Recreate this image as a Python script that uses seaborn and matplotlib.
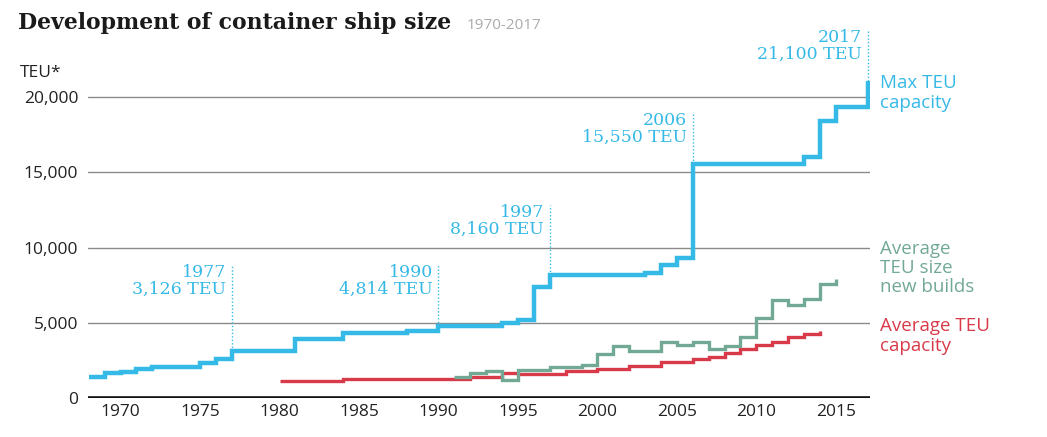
import pandas as pd
import seaborn as sns
import matplotlib.pyplot as plt

# Max TEU capacity (year the step starts, TEU)
max_years = [1968, 1969, 1970, 1971, 1972, 1975, 1976, 1977, 1981, 1984, 1988, 1990,
             1994, 1995, 1996, 1997, 2003, 2004, 2005, 2006, 2013, 2014, 2015, 2017]
max_teu = [1380, 1640, 1750, 1900, 2080, 2350, 2570, 3126, 3900, 4300, 4450, 4814,
           5000, 5200, 7400, 8160, 8330, 8840, 9280, 15550, 15990, 18430, 19360, 21100]

# Average TEU size of new builds
new_years = [1991, 1992, 1993, 1994, 1995, 1997, 1999, 2000, 2001, 2002, 2004,
             2005, 2006, 2007, 2008, 2009, 2010, 2011, 2012, 2013, 2014, 2015]
new_teu = [1420, 1640, 1810, 1200, 1860, 2040, 2190, 2920, 3450, 3140, 3700,
           3520, 3740, 3280, 3460, 4070, 5300, 6510, 6180, 6560, 7550, 7890]

# Average TEU capacity
avg_years = [1980, 1984, 1992, 1994, 1995, 1998, 2000, 2002, 2004, 2006, 2007,
             2008, 2009, 2010, 2011, 2012, 2013, 2014]
avg_teu = [1130, 1250, 1420, 1650, 1600, 1800, 1950, 2130, 2400, 2600, 2750,
           2970, 3230, 3520, 3740, 4070, 4250, 4470]

# Milestones called out on the max line
ann_years = [1977, 1990, 1997, 2006, 2017]
ann_tops = [8840, 8840, 12820, 18940, 24450]  # where the dotted leader ends

x_ticks = [1970, 1975, 1980, 1985, 1990, 1995, 2000, 2005, 2010, 2015]
y_ticks = [0, 5000, 10000, 15000, 20000]

blue = '#35b9e6'
green = '#72a995'
red = '#d83a4a'

sns.set_theme(style='white')
plt.rcParams['font.family'] = ['Open Sans', 'DejaVu Sans']

fig = plt.figure(figsize=(10.47, 4.37), dpi=100)
ax = fig.add_axes([88 / 1047, 1 - 398 / 437, (870 - 88) / 1047, (398 - 79) / 437])

df_max = pd.DataFrame({'year': max_years, 'teu': max_teu})
df_new = pd.DataFrame({'year': new_years, 'teu': new_teu})
df_avg = pd.DataFrame({'year': avg_years, 'teu': avg_teu})

# gridlines first so the series sit on top
for v in y_ticks[1:]:
    ax.axhline(v, color='#8a8a8a', lw=1, zorder=1)
ax.axhline(0, color='#111111', lw=2.6, zorder=1)

step_kw = dict(drawstyle='steps-post', solid_joinstyle='miter', solid_capstyle='butt',
               errorbar=None, legend=False)
sns.lineplot(data=df_avg, x='year', y='teu', color=red, lw=2.4, ax=ax, zorder=3, **step_kw)
sns.lineplot(data=df_new, x='year', y='teu', color=green, lw=2.4, ax=ax, zorder=4, **step_kw)
sns.lineplot(data=df_max, x='year', y='teu', color=blue, lw=3.2, ax=ax, zorder=5, **step_kw)

# milestone call-outs
serif = 'DejaVu Serif'
for yr, top in zip(ann_years, ann_tops):
    val = max_teu[max_years.index(yr)]
    ax.plot([yr, yr], [val, top], color=blue, lw=1, linestyle=(0, (1, 1.5)),
            clip_on=False, zorder=2)
    ax.annotate(f'{yr}\n{val:,} TEU', xy=(yr, top), xytext=(-4, 1),
                textcoords='offset points', ha='right', va='top', color=blue,
                fontsize=12.5, family=serif, linespacing=1.02, annotation_clip=False)

# series labels on the right
lab_kw = dict(transform=ax.get_yaxis_transform(), ha='left', va='center',
              fontsize=13.5, linespacing=1.08, clip_on=False)
ax.text(1.013, 20270, 'Max TEU\ncapacity', color=blue, **lab_kw)
ax.text(1.013, 8640, 'Average\nTEU size\nnew builds', color=green, **lab_kw)
ax.text(1.013, 4120, 'Average TEU\ncapacity', color=red, **lab_kw)

ax.set_xlim(1967.95, 2017.15)
ax.set_ylim(0, 21200)
ax.set_xticks(x_ticks)
ax.set_yticks(y_ticks)
ax.set_yticklabels([f'{v:,}' for v in y_ticks])
ax.tick_params(axis='both', length=0, labelsize=12.5, colors='#222222')
ax.tick_params(axis='y', pad=7)
ax.tick_params(axis='x', pad=4)
ax.set_xlabel('')
ax.set_ylabel('')
sns.despine(ax=ax, left=True, bottom=True)

fig.text(20 / 1047, 1 - 73 / 437, 'TEU*', fontsize=12.5, color='#222222',
         ha='left', va='center')
fig.text(18 / 1047, 1 - 29 / 437, 'Development of container ship size', family=serif,
         fontsize=15.8, fontweight='bold', color='#1a1a1a', ha='left', va='baseline')
fig.text(467 / 1047, 1 - 29 / 437, '1970-2017', fontsize=11, color='#aaaaaa',
         ha='left', va='baseline')

fig.savefig('out.png', dpi=100)
plt.close(fig)
